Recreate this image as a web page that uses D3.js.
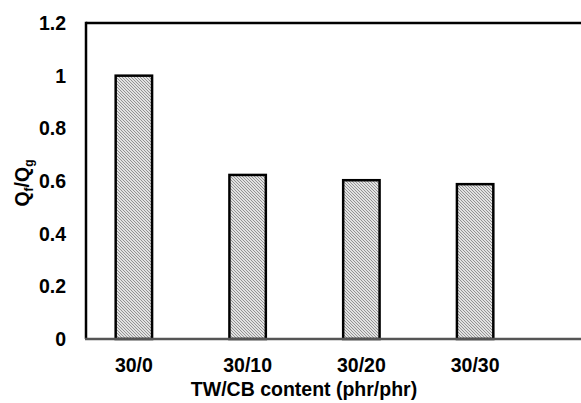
<!DOCTYPE html>
<html>
<head>
<meta charset="utf-8">
<script src="https://cdn.jsdelivr.net/npm/d3@7"></script>
<style>
html,body{margin:0;padding:0;background:#fff;}
svg{display:block;font-family:"Liberation Sans",Arial,sans-serif;font-weight:bold;}
</style>
</head>
<body>
<script>
const categories = ["30/0", "30/10", "30/20", "30/30"];
const values = [1.0, 0.623, 0.603, 0.588];
const yTicks = [0, 0.2, 0.4, 0.6, 0.8, 1, 1.2];
const xTitle = "TW/CB content (phr/phr)";

const W = 581, H = 403;
const svg = d3.select("body").append("svg").attr("width", W).attr("height", H);

const pat = svg.append("defs").append("pattern")
  .attr("id", "hatch").attr("patternUnits", "userSpaceOnUse")
  .attr("width", 3).attr("height", 3);
pat.append("rect").attr("width", 3).attr("height", 3).attr("fill", "#e2e2e2");
pat.append("path").attr("d", "M-1,-1 L4,4 M-1,2 L1,4 M2,-1 L4,1")
  .attr("stroke", "#8a8a8a").attr("stroke-width", 0.9);

const y = d3.scaleLinear().domain([0, 1.2]).range([339, 23]);
const x = d3.scaleBand().domain(categories).range([77, 532])
  .paddingInner(0.68).paddingOuter(0.34);

const left = 86;
const fs = 19.5;

// frame: top and left lines
svg.append("line").attr("x1", left).attr("x2", W + 5).attr("y1", y(1.2)).attr("y2", y(1.2))
  .attr("stroke", "#000").attr("stroke-width", 2.5);
svg.append("line").attr("x1", left).attr("x2", left).attr("y1", y(1.2) - 1.2).attr("y2", y(0))
  .attr("stroke", "#000").attr("stroke-width", 2.5);

// bars
svg.selectAll("rect.bar").data(values).enter().append("rect")
  .attr("class", "bar")
  .attr("x", (d, i) => x(categories[i]))
  .attr("width", x.bandwidth())
  .attr("y", d => y(d))
  .attr("height", d => y(0) - y(d))
  .attr("fill", "url(#hatch)")
  .attr("stroke", "#000").attr("stroke-width", 2.5);

// bottom axis line
svg.append("line").attr("x1", left - 1).attr("x2", W + 5).attr("y1", y(0)).attr("y2", y(0))
  .attr("stroke", "#555").attr("stroke-width", 2.5);

// y tick labels
svg.selectAll("text.yt").data(yTicks).enter().append("text")
  .attr("class", "yt")
  .attr("x", 66).attr("y", d => y(d) + 7)
  .attr("text-anchor", "end").attr("font-size", fs).attr("fill", "#000")
  .text(d => d === 0 ? "0" : d3.format("")(d));

// x tick labels
svg.selectAll("text.xt").data(categories).enter().append("text")
  .attr("class", "xt")
  .attr("x", d => x(d) + x.bandwidth() / 2).attr("y", 372)
  .attr("text-anchor", "middle").attr("font-size", fs).attr("fill", "#000")
  .text(d => d);

// x title
svg.append("text").attr("x", 304).attr("y", 396)
  .attr("text-anchor", "middle").attr("font-size", fs).attr("fill", "#000")
  .text(xTitle);

// y title Qf/Qg
const yt = svg.append("text").attr("transform", "translate(29,183) rotate(-90)")
  .attr("text-anchor", "middle").attr("font-size", fs).attr("fill", "#000");
yt.append("tspan").text("Q");
yt.append("tspan").attr("font-size", 12).attr("dy", 4).text("f");
yt.append("tspan").attr("dy", -4).text("/Q");
yt.append("tspan").attr("font-size", 12).attr("dy", 4).text("g");
</script>
</body>
</html>
